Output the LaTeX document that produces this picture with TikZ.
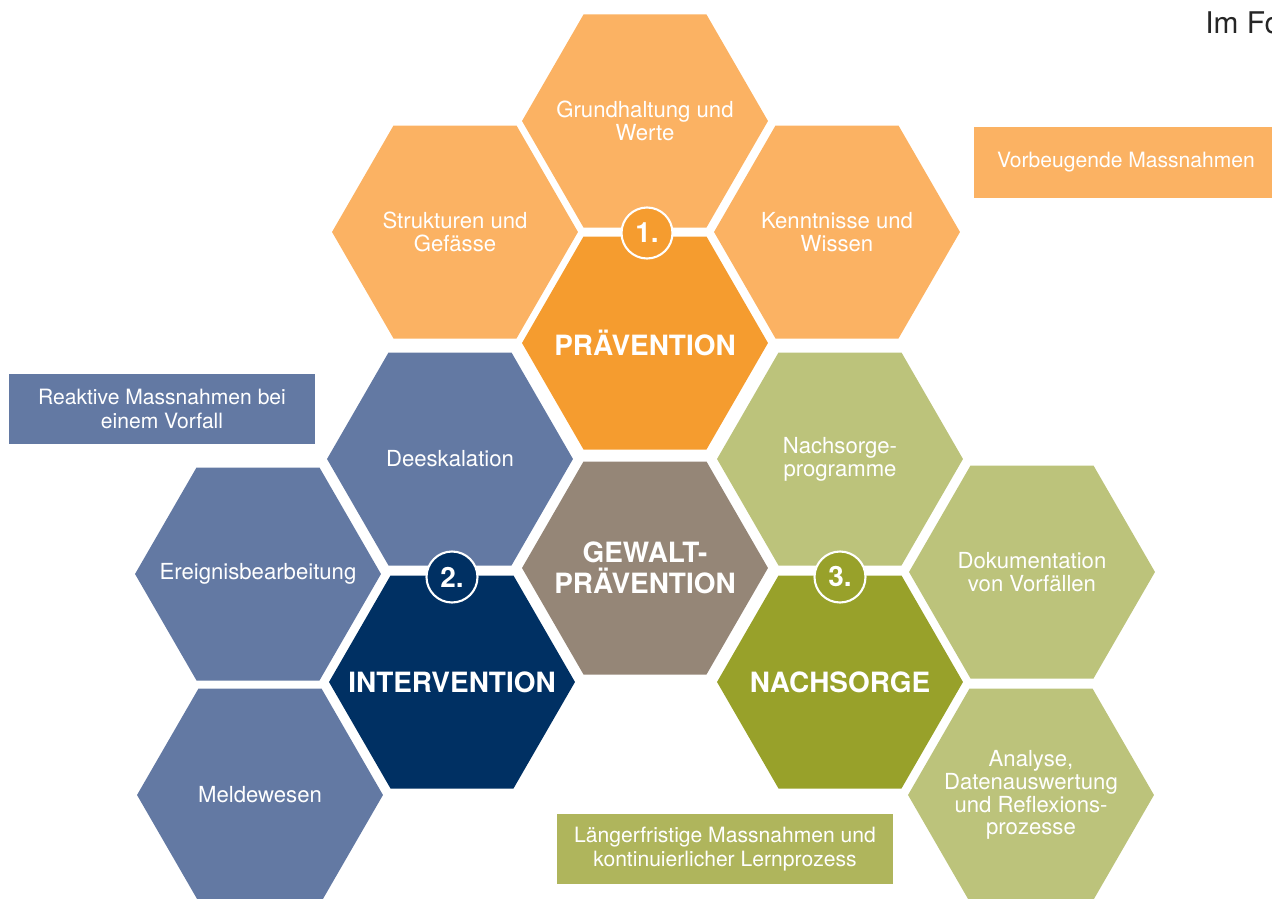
\documentclass[tikz,border=0pt]{standalone}
\usepackage{fontspec}
\setmainfont{TeX Gyre Heros}
\usetikzlibrary{shapes.geometric}

\definecolor{hexlight}{HTML}{FBB263}
\definecolor{hexorange}{HTML}{F59C2F}
\definecolor{hexblue}{HTML}{6379A3}
\definecolor{hexnavy}{HTML}{003063}
\definecolor{hextaupe}{HTML}{958677}
\definecolor{hexlgreen}{HTML}{BCC37B}
\definecolor{hexolive}{HTML}{98A12A}
\definecolor{boxgreen}{HTML}{AFB55C}

\begin{document}
\begin{tikzpicture}[x=0.02cm,y=-0.02cm,
hexa/.style={regular polygon,regular polygon sides=6,minimum size=4.92cm,inner sep=0pt},
hextext/.style={inner sep=0pt,text=white,align=center,font=\fontsize{12.6}{13}\selectfont},
hexmain/.style={hextext,font=\fontsize{15.9}{18}\selectfont\bfseries},
num/.style={circle,draw=white,line width=1.2pt,minimum size=1.02cm,inner sep=0pt,text=white,font=\fontsize{15.9}{16}\selectfont\bfseries},
legend/.style={rectangle,minimum height=1.41cm,inner sep=0pt,text=white,align=center,font=\fontsize{12}{13.6}\selectfont}]
\useasboundingbox (0,0) rectangle (1272,899);
\clip (0,0) rectangle (1272,899);

\node[hexa,fill=hexlight] (werte) at (645,121) {};
\node[hexa,fill=hexlight] (struktur) at (455,232) {};
\node[hexa,fill=hexlight] (wissen) at (837,232) {};
\node[hexa,fill=hexorange] (praev) at (645,343) {};
\node[hexa,fill=hexblue] (deeska) at (450,459) {};
\node[hexa,fill=hexlgreen] (nachprog) at (840,459) {};
\node[hexa,fill=hextaupe] (gewalt) at (645,568) {};
\node[hexa,fill=hexblue] (ereignis) at (258,574) {};
\node[hexa,fill=hexnavy] (interv) at (452,682) {};
\node[hexa,fill=hexolive] (nachsorge) at (840,682) {};
\node[hexa,fill=hexlgreen] (doku) at (1032,572) {};
\node[hexa,fill=hexblue] (melde) at (260,795) {};
\node[hexa,fill=hexlgreen] (analyse) at (1031,795) {};

\node[hextext] (werte-t) at (werte) {Grundhaltung und\\Werte};
\node[hextext] (struktur-t) at (struktur) {Strukturen und\\Gefässe};
\node[hextext] (wissen-t) at (wissen) {Kenntnisse und\\Wissen};
\node[hexmain] (praev-t) at (praev) {PRÄVENTION};
\node[hextext] (deeska-t) at (deeska) {Deeskalation};
\node[hextext] (nachprog-t) at (nachprog) {Nachsorge-\\programme};
\node[hexmain] (gewalt-t) at (gewalt) {GEWALT-\\PRÄVENTION};
\node[hextext] (ereignis-t) at (ereignis) {Ereignisbearbeitung};
\node[hexmain] (interv-t) at (interv) {INTERVENTION};
\node[hexmain] (nachsorge-t) at (nachsorge) {NACHSORGE};
\node[hextext] (doku-t) at (doku) {Dokumentation\\von Vorfällen};
\node[hextext] (melde-t) at (melde) {Meldewesen};
\node[hextext] (analyse-t) at (analyse) {Analyse,\\Datenauswertung\\und Reflexions-\\prozesse};

\node[num,fill=hexorange] (eins) at (647,233) {1.};
\node[num,fill=hexnavy] (zwei) at (452,577) {2.};
\node[num,fill=hexolive] (drei) at (840,577) {3.};

\node[legend,fill=hexlight,minimum width=6.08cm] (vorbeug) at (1126,162.5) {Vorbeugende Massnahmen};
\node[legend,fill=hexblue,minimum width=6.12cm] (reaktiv) at (162,409) {Reaktive Massnahmen bei\\einem Vorfall};
\node[legend,fill=boxgreen,minimum width=6.72cm] (lernen) at (725,849) {Längerfristige Massnahmen und\\kontinuierlicher Lernprozess};

\node[anchor=base west,inner sep=0pt,text=black!85,font=\fontsize{17}{17}\selectfont] (imfo) at (1205,33) {Im Fo};

\end{tikzpicture}
\end{document}
